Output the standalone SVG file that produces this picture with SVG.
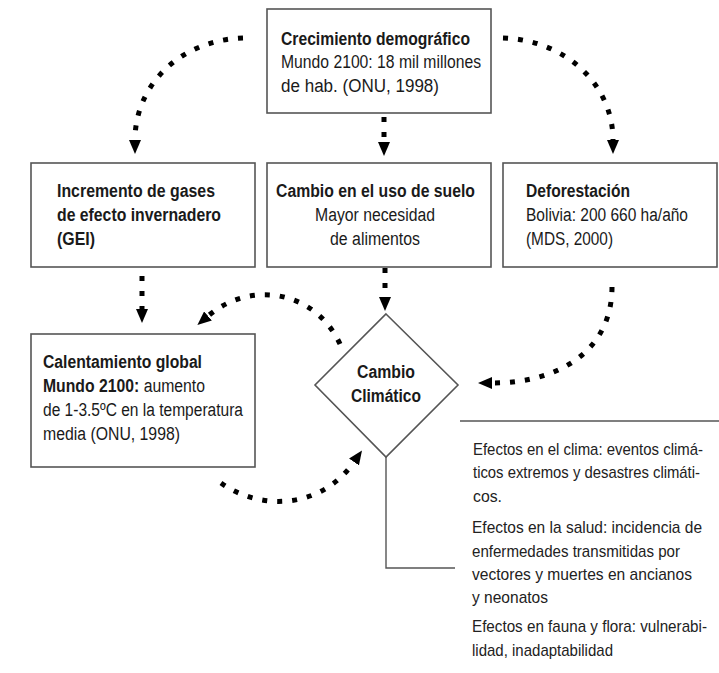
<svg xmlns="http://www.w3.org/2000/svg" width="719" height="673" viewBox="0 0 719 673">
<style>
.box{fill:#fff;stroke:#555;stroke-width:1.6}
.thin{fill:none;stroke:#555;stroke-width:1.4}
.t{font-family:"Liberation Sans Narrow","Liberation Sans",Arial,sans-serif;font-size:18px;fill:#1a1a1a}
.s{font-size:17px;fill:#222}
.b{font-weight:bold}
.c{fill:none;stroke:#000;stroke-width:5;stroke-dasharray:5 10;marker-end:url(#ah)}
</style>
<defs>
<marker id="ah" viewBox="0 0 14 12" refX="0" refY="6" markerWidth="14" markerHeight="12" markerUnits="userSpaceOnUse" orient="auto">
<path d="M0,0 L14,6 L0,12 z" fill="#000"/>
</marker>
</defs>
<rect width="719" height="673" fill="#fff"/>
<g id="crecimiento">
<rect class="box" x="267" y="9" width="224" height="104"/>
<text class="t b" x="281" y="45" textLength="189" lengthAdjust="spacingAndGlyphs">Crecimiento demográfico</text>
<text class="t" x="281" y="68" textLength="200" lengthAdjust="spacingAndGlyphs">Mundo 2100: 18 mil millones</text>
<text class="t" x="281" y="92" textLength="158" lengthAdjust="spacingAndGlyphs">de hab. (ONU, 1998)</text>
</g>
<g id="gei">
<rect class="box" x="31" y="163" width="224" height="104"/>
<text class="t b" x="57" y="197" textLength="158" lengthAdjust="spacingAndGlyphs">Incremento de gases</text>
<text class="t b" x="57" y="221" textLength="164" lengthAdjust="spacingAndGlyphs">de efecto invernadero</text>
<text class="t b" x="57" y="245" textLength="38" lengthAdjust="spacingAndGlyphs">(GEI)</text>
</g>
<g id="suelo">
<rect class="box" x="267" y="163" width="224" height="104"/>
<text class="t b" x="276" y="197" textLength="199" lengthAdjust="spacingAndGlyphs">Cambio en el uso de suelo</text>
<text class="t" x="315" y="221" textLength="120" lengthAdjust="spacingAndGlyphs">Mayor necesidad</text>
<text class="t" x="330" y="245" textLength="90" lengthAdjust="spacingAndGlyphs">de alimentos</text>
</g>
<g id="deforestacion">
<rect class="box" x="503" y="163" width="214" height="104"/>
<text class="t b" x="526" y="197" textLength="104" lengthAdjust="spacingAndGlyphs">Deforestación</text>
<text class="t" x="526" y="221" textLength="162" lengthAdjust="spacingAndGlyphs">Bolivia: 200 660 ha/año</text>
<text class="t" x="526" y="245" textLength="87" lengthAdjust="spacingAndGlyphs">(MDS, 2000)</text>
</g>
<g id="calentamiento">
<rect class="box" x="31" y="334" width="224" height="133"/>
<text class="t b" x="43" y="368" textLength="159" lengthAdjust="spacingAndGlyphs">Calentamiento global</text>
<text class="t" x="43" y="392" textLength="162" lengthAdjust="spacingAndGlyphs"><tspan class="b">Mundo 2100:</tspan> aumento</text>
<text class="t" x="43" y="416" textLength="200" lengthAdjust="spacingAndGlyphs">de 1-3.5ºC en la temperatura</text>
<text class="t" x="43" y="440" textLength="137" lengthAdjust="spacingAndGlyphs">media (ONU, 1998)</text>
</g>
<g id="cambio-climatico">
<polygon class="box" points="386,314 458,385 386,457 315,385"/>
<text class="t b" x="386" y="378" text-anchor="middle" textLength="58" lengthAdjust="spacingAndGlyphs">Cambio</text>
<text class="t b" x="386" y="402" text-anchor="middle" textLength="70" lengthAdjust="spacingAndGlyphs">Climático</text>
</g>
<g id="efectos">
<polyline class="thin" points="386,457 386,568 455,568"/>
<line class="thin" x1="460" y1="421" x2="719" y2="421"/>
<text class="t s" x="473" y="455" textLength="230" lengthAdjust="spacingAndGlyphs">Efectos en el clima: eventos climá-</text>
<text class="t s" x="473" y="478" textLength="227" lengthAdjust="spacingAndGlyphs">ticos extremos y desastres climáti-</text>
<text class="t s" x="473" y="502" textLength="29" lengthAdjust="spacingAndGlyphs">cos.</text>
<text class="t s" x="472" y="533" textLength="230" lengthAdjust="spacingAndGlyphs">Efectos en la salud: incidencia de</text>
<text class="t s" x="472" y="557" textLength="208" lengthAdjust="spacingAndGlyphs">enfermedades transmitidas por</text>
<text class="t s" x="472" y="580" textLength="220" lengthAdjust="spacingAndGlyphs">vectores y muertes en ancianos</text>
<text class="t s" x="472" y="603" textLength="76" lengthAdjust="spacingAndGlyphs">y neonatos</text>
<text class="t s" x="472" y="632" textLength="235" lengthAdjust="spacingAndGlyphs">Efectos en fauna y flora: vulnerabi-</text>
<text class="t s" x="472" y="656" textLength="141" lengthAdjust="spacingAndGlyphs">lidad, inadaptabilidad</text>
</g>
<g id="connectors">
<path class="c" d="M243,38 C180,40 135,85 135,140"/>
<path class="c" d="M503,38 C566,40 613,85 613,140"/>
<path class="c" d="M384,117 L384,142"/>
<path class="c" d="M142,276 L142,309"/>
<path class="c" d="M385,268 L385,297"/>
<path class="c" d="M340,344 C315,290 250,280 208,316"/>
<path class="c" d="M612,287 C612,350 560,383 492,383"/>
<path class="c" d="M221,483 C262,512 322,508 354,462"/>
</g>
</svg>
